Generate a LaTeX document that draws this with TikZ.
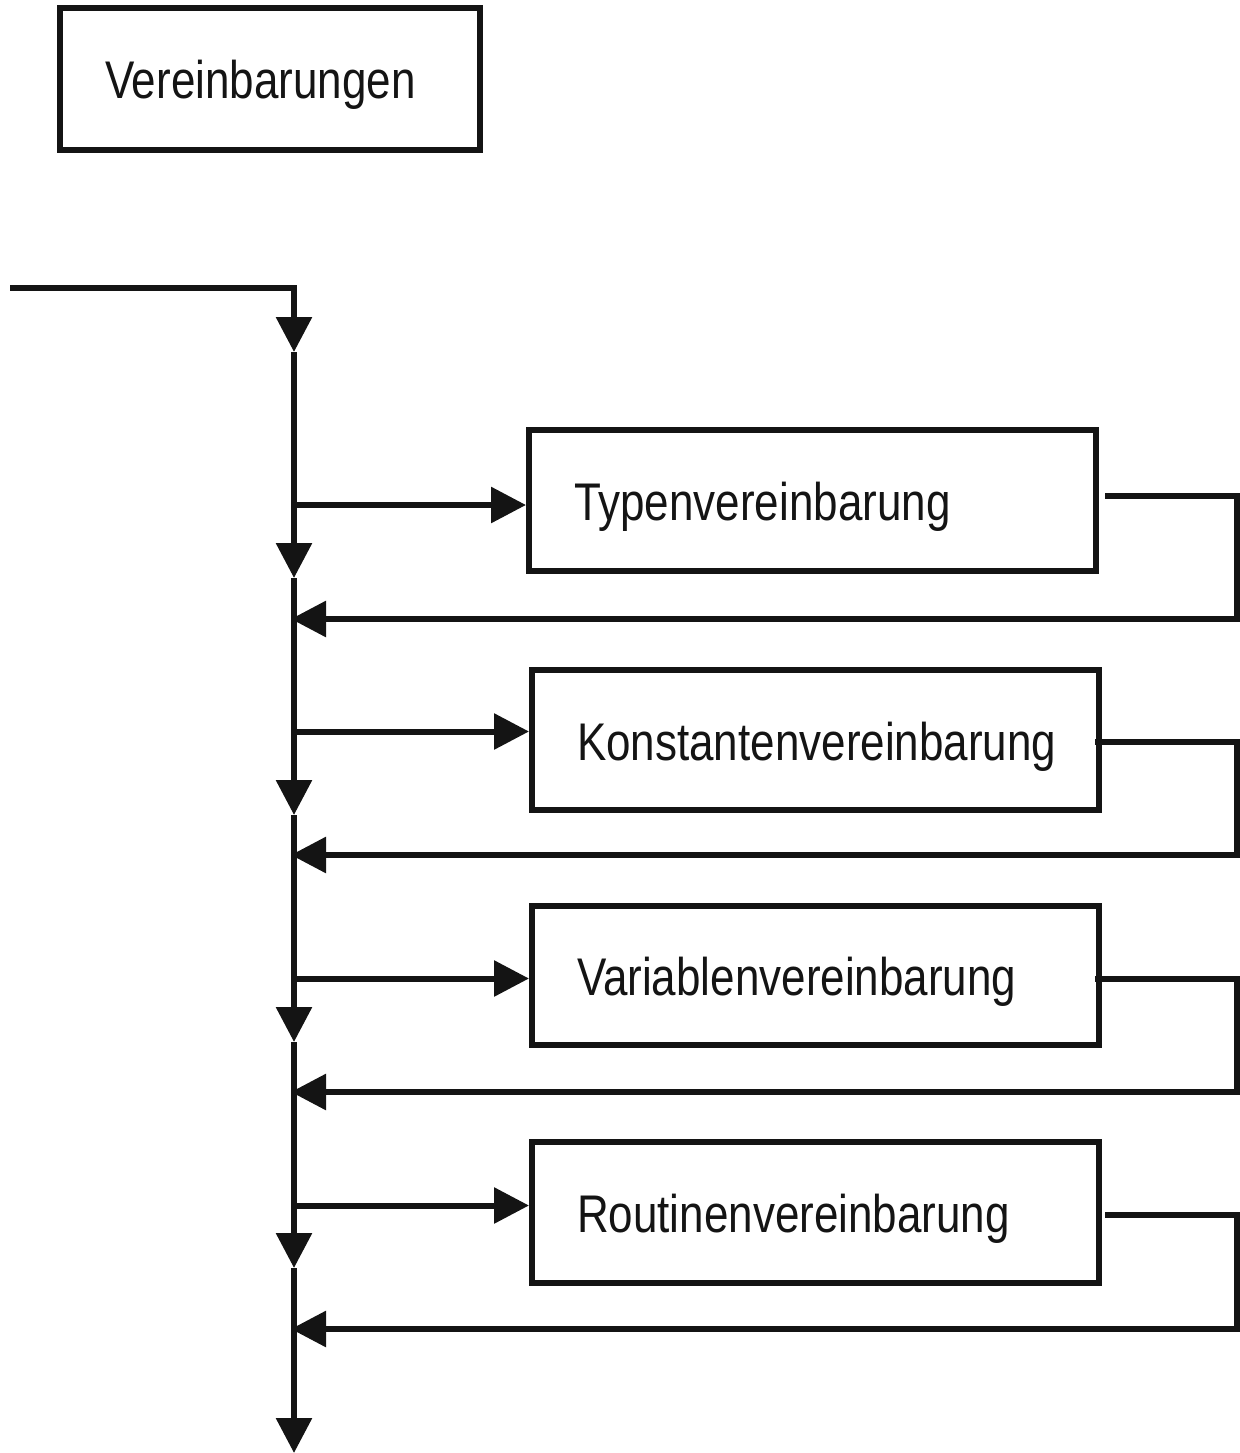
\documentclass[tikz,border=0pt]{standalone}
\usepackage{fontspec}
\usetikzlibrary{arrows.meta}
\newfontfamily\lbl[FakeStretch=0.83]{Liberation Sans}

\tikzset{
  every path/.style={line width=6pt, color=black!92},
  box/.style={draw, line width=6pt, rectangle, inner sep=0pt, inner xsep=45pt,
    font=\lbl\fontsize{53}{60}\selectfont, text height=40pt, text depth=0pt,
    align=left},
  arr/.style={-{Triangle[length=35pt,width=35pt]}},
}

\begin{document}
\begin{tikzpicture}[x=1pt, y=-1pt]
  \useasboundingbox (0,0) rectangle (1239,1453);

  % title box
  \node[box, minimum width=419.5pt, minimum height=141pt, text width=329.5pt]
    (title) at (269.75,79) {Vereinbarungen};

  % declaration boxes
  \node[box, minimum width=566.5pt, minimum height=141pt, text width=476.5pt]
    (typ) at (812.25,500.5) {Typenvereinbarung};
  \node[box, minimum width=566.5pt, minimum height=140pt, text width=476.5pt]
    (kon) at (815.25,740) {Konstantenvereinbarung};
  \node[box, minimum width=566.5pt, minimum height=139pt, text width=476.5pt]
    (var) at (815.25,975) {Variablenvereinbarung};
  \node[box, minimum width=566.5pt, minimum height=141pt, text width=476.5pt]
    (rou) at (815.25,1212.5) {Routinenvereinbarung};

  % trunk points
  \coordinate (in) at (10,288);
  \coordinate (c0) at (294,288);
  \coordinate (t1) at (294,352);
  \coordinate (t2) at (294,578);
  \coordinate (t3) at (294,815);
  \coordinate (t4) at (294,1042);
  \coordinate (t5) at (294,1268);
  \coordinate (t6) at (294,1453);

  % branch points on the trunk
  \coordinate (j1) at (294,505);
  \coordinate (j2) at (294,731.5);
  \coordinate (j3) at (294,978.5);
  \coordinate (j4) at (294,1205.5);

  % return points on the trunk
  \coordinate (r1) at (291,619);
  \coordinate (r2) at (291,855);
  \coordinate (r3) at (291,1092);
  \coordinate (r4) at (291,1329);

  % exits of the boxes and right-hand corners
  \coordinate (e1) at (1105,496);
  \coordinate (e2) at (1095,741.5);
  \coordinate (e3) at (1095,978.5);
  \coordinate (e4) at (1105,1215);
  \coordinate (u1) at (1236.5,496);
  \coordinate (u2) at (1236.5,741.5);
  \coordinate (u3) at (1236.5,978.5);
  \coordinate (u4) at (1236.5,1215);
  \coordinate (d1) at (1236.5,619);
  \coordinate (d2) at (1236.5,855);
  \coordinate (d3) at (1236.5,1092);
  \coordinate (d4) at (1236.5,1329);

  % main line
  \draw[arr] (in) -- (c0) -- (t1);
  \draw[arr] (t1) -- (t2);
  \draw[arr] (t2) -- (t3);
  \draw[arr] (t3) -- (t4);
  \draw[arr] (t4) -- (t5);
  \draw[arr] (t5) -- (t6);

  % branches into the boxes
  \draw[arr] (j1) -- (j1 -| typ.west);
  \draw[arr] (j2) -- (j2 -| kon.west);
  \draw[arr] (j3) -- (j3 -| var.west);
  \draw[arr] (j4) -- (j4 -| rou.west);

  % loops back to the main line
  \draw[arr] (e1) -- (u1) -- (d1) -- (r1);
  \draw[arr] (e2) -- (u2) -- (d2) -- (r2);
  \draw[arr] (e3) -- (u3) -- (d3) -- (r3);
  \draw[arr] (e4) -- (u4) -- (d4) -- (r4);
\end{tikzpicture}
\end{document}
